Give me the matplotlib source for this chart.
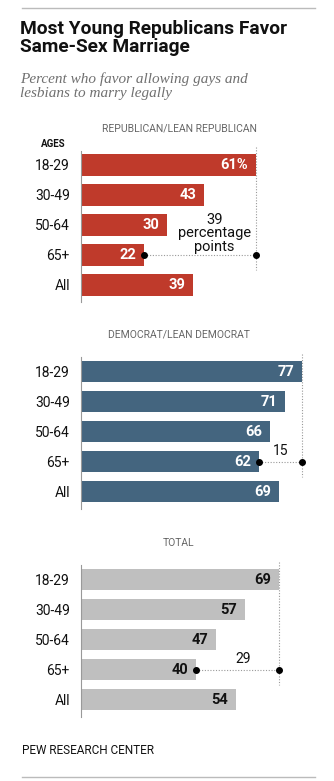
import matplotlib
matplotlib.use("Agg")
import matplotlib.pyplot as plt

# data
ages = ["18-29", "30-49", "50-64", "65+", "All"]
rep_vals = [61, 43, 30, 22, 39]
dem_vals = [77, 71, 66, 62, 69]
tot_vals = [69, 57, 47, 40, 54]
gaps = [39, 15, 29]
panel_titles = ["REPUBLICAN/LEAN REPUBLICAN", "DEMOCRAT/LEAN DEMOCRAT", "TOTAL"]

W, H = 334, 781
fig = plt.figure(figsize=(W / 100, H / 100), dpi=100)
plt.rcParams['font.family'] = ['Roboto', 'DejaVu Sans']

def px(x, y):
    return x / W, 1 - y / H

# header rule + title
fig.add_artist(plt.Line2D([22 / W, 315 / W], [1 - 8 / H] * 2, color="#bbbbbb", lw=1))
fig.text(*px(20, 20), "Most Young Republicans Favor\nSame-Sex Marriage", fontsize=13.8,
         fontweight="bold", va="top", ha="left", linespacing=1.0, color="#111111")
fig.text(*px(20, 72), "Percent who favor allowing gays and\nlesbians to marry legally",
         fontsize=11, style="italic", family="Liberation Serif", va="top", ha="left",
         color="#707070", linespacing=1.1)

panels = [
    (rep_vals, "#bf3a2b", "white", 165),
    (dem_vals, "#44657f", "white", 371.5),
    (tot_vals, "#bfbfbf", "#111111", 579.5),
]

x0, x1 = 81, 315
scale = 2.87  # px per percentage point
top_pad, bot_pad, step = 0.48, 0.57, 30

for i, (vals, col, tcol, c0) in enumerate(panels):
    ytop = c0 - top_pad * step
    ybot = c0 + (4 + bot_pad) * step
    ax = fig.add_axes([x0 / W, 1 - ybot / H, (x1 - x0) / W, (ybot - ytop) / H])
    ax.set_xlim(0, (x1 - x0) / scale)
    ax.set_ylim(4 + bot_pad, -top_pad)
    ax.barh(range(len(ages)), vals, height=0.72, color=col)
    for j, v in enumerate(vals):
        lab = f"{v}%" if (i == 0 and j == 0) else str(v)
        ax.text(v - 2.7, j, lab, ha="right", va="center", color=tcol,
                fontsize=10.5, fontweight="bold")
    ax.set_yticks(range(len(ages)))
    ax.set_yticklabels(ages, fontsize=10, color="#111111")
    ax.tick_params(axis="y", length=0, pad=8)
    ax.set_xticks([])
    for s in ["top", "right", "bottom"]:
        ax.spines[s].set_visible(False)
    ax.spines["left"].set_color("#999999")
    ax.spines["left"].set_linewidth(0.8)

    # gap marker between 18-29 and 65+
    hi, lo = vals[0], vals[3]
    ax.plot([hi, hi], [-0.6, 3.5], ls=(0, (1, 1.5)), color="#999999", lw=0.8, clip_on=False)
    ax.plot([lo, hi], [3, 3], ls=(0, (1, 1.5)), color="#999999", lw=0.8, clip_on=False)
    ax.plot([lo, hi], [3, 3], "o", color="black", ms=4, clip_on=False)
    if i == 0:
        ax.text((lo + hi) / 2 + 5, 2.95, f"{gaps[i]}\npercentage\npoints", ha="center",
                va="bottom", fontsize=10.5, linespacing=0.92, color="#111111")
    else:
        ax.text((lo + hi) / 2 + (0 if i == 1 else 2), 2.88, str(gaps[i]), ha="center",
                va="bottom", fontsize=10, color="#111111")

    fig.text(*px(179, c0 - 37), panel_titles[i], ha="center", va="center",
             fontsize=7.5, color="#666666")

fig.text(*px(41, 144), "AGES", ha="left", va="center", fontsize=7, fontweight="bold",
         color="#111111")

fig.text(*px(22, 751), "PEW RESEARCH CENTER", ha="left", va="center", fontsize=8.5,
         color="#111111")
fig.add_artist(plt.Line2D([22 / W, 315 / W], [1 - 777 / H] * 2, color="#bbbbbb", lw=1))

fig.savefig("out.png", dpi=100, facecolor="white")
